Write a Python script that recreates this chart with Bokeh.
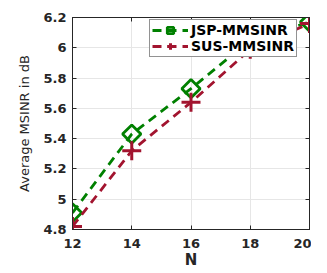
import math
from bokeh.plotting import figure
from bokeh.models import (FixedTicker, CustomJSTickFormatter, LinearAxis, Legend, LegendItem, Range1d)
from bokeh.embed import file_html
from bokeh.resources import INLINE

N = [12, 14, 16, 18, 20]
jsp = [4.91, 5.43, 5.73, 6.05, 6.17]
sus = [4.82, 5.32, 5.64, 5.99, 6.16]
x_ticks = [12, 14, 16, 18, 20]
y_ticks = [4.8, 5.0, 5.2, 5.4, 5.6, 5.8, 6.0, 6.2]

GREEN = "#008000"
RED = "#A2142F"
AX = "#262626"

p = figure(width=311, height=271, output_backend="svg", toolbar_location=None,
           x_range=Range1d(12, 20), y_range=Range1d(4.8, 6.2),
           min_border_left=72, min_border_right=2, min_border_top=17, min_border_bottom=42)
p.outline_line_color = AX
p.outline_line_width = 1

fmt = CustomJSTickFormatter(code="return tick.toFixed(1).replace(/\\.0$/, '');")
blank = CustomJSTickFormatter(code="return '';")

for ax in (p.xaxis[0], p.yaxis[0]):
    ax.major_tick_in = 4
    ax.major_tick_out = 0
    ax.minor_tick_in = 0
    ax.minor_tick_out = 0
    ax.axis_line_color = AX
    ax.major_tick_line_color = AX
    ax.major_label_text_font = "DejaVu Sans"
    ax.major_label_text_font_style = "bold"
    ax.major_label_text_font_size = "13px"
    ax.major_label_text_color = "#262626"
    ax.major_label_standoff = 6

p.xaxis[0].ticker = FixedTicker(ticks=x_ticks)
p.yaxis[0].ticker = FixedTicker(ticks=y_ticks)
p.yaxis[0].formatter = fmt
p.xaxis[0].major_label_standoff = 9
p.xaxis[0].axis_label = "N"
p.xaxis[0].axis_label_text_font = "DejaVu Sans"
p.xaxis[0].axis_label_text_font_style = "bold"
p.xaxis[0].axis_label_text_font_size = "15px"
p.xaxis[0].axis_label_text_color = "#262626"
p.xaxis[0].axis_label_standoff = 0
p.yaxis[0].axis_label = "Average MSINR in dB"
p.yaxis[0].axis_label_text_font = "DejaVu Sans"
p.yaxis[0].axis_label_text_font_style = "normal"
p.yaxis[0].axis_label_text_font_size = "13px"
p.yaxis[0].axis_label_text_color = "#262626"
p.yaxis[0].axis_label_standoff = 8

top = LinearAxis(ticker=FixedTicker(ticks=x_ticks), formatter=blank, major_tick_in=4, major_tick_out=0,
                 minor_tick_in=0, minor_tick_out=0, major_label_standoff=0,
                 axis_line_color=AX, major_tick_line_color=AX)
right = LinearAxis(ticker=FixedTicker(ticks=y_ticks), formatter=blank, major_tick_in=4, major_tick_out=0,
                   minor_tick_in=0, minor_tick_out=0, major_label_standoff=0,
                   axis_line_color=AX, major_tick_line_color=AX)
p.add_layout(top, "above")
p.add_layout(right, "right")

p.xgrid.grid_line_color = "#e6e6e6"
p.ygrid.grid_line_color = "#e6e6e6"
p.xgrid.ticker = FixedTicker(ticks=x_ticks)
p.ygrid.ticker = FixedTicker(ticks=y_ticks)

l1 = p.line(N, jsp, line_color=GREEN, line_width=2.8, line_dash="9 6")
m1 = p.scatter(N, jsp, marker="square", angle=math.pi / 4, size=13, fill_color=None,
               line_color=GREEN, line_width=2.8)
l2 = p.line(N, sus, line_color=RED, line_width=2.8, line_dash="9 6")
m2 = p.scatter(N, sus, marker="cross", size=19, line_color=RED, line_width=3)

legend = Legend(items=[LegendItem(label="JSP-MMSINR", renderers=[l1, m1]),
                       LegendItem(label="SUS-MMSINR", renderers=[l2, m2])],
                location=(77, 172))
legend.label_text_font = "DejaVu Sans"
legend.label_text_font_style = "bold"
legend.label_text_font_size = "14px"
legend.label_text_color = "#000000"
legend.glyph_width = 36
legend.glyph_height = 16
legend.label_height = 16
legend.spacing = 0
legend.padding = 2
legend.margin = 0
legend.label_standoff = 3
legend.border_line_color = AX
legend.border_line_width = 1
legend.background_fill_alpha = 1.0
p.add_layout(legend, "center")

open("out.html", "w").write(file_html(p, INLINE))
